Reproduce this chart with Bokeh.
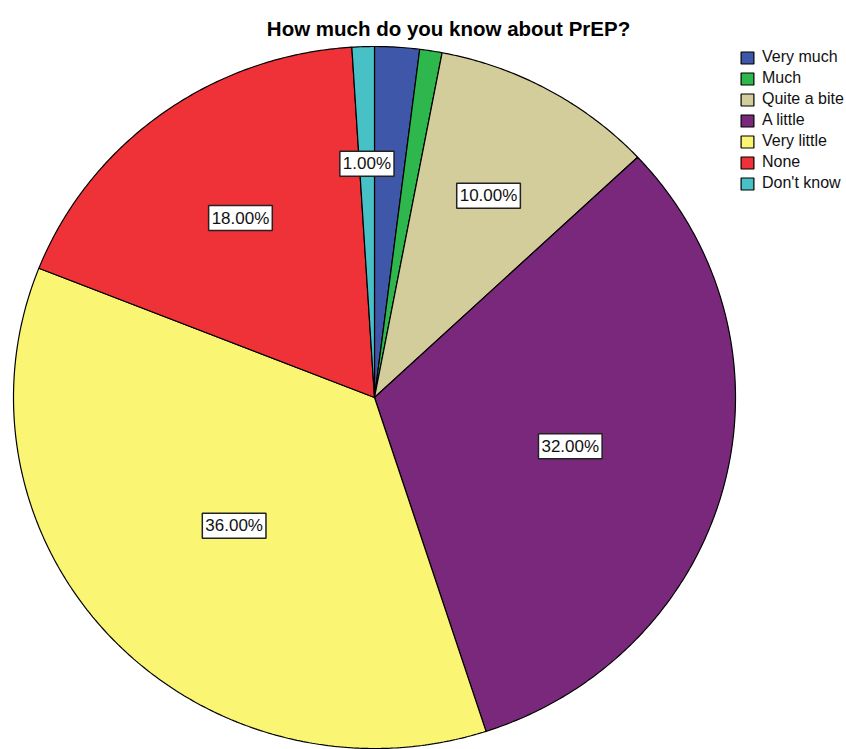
import numpy as np
from bokeh.plotting import figure
from bokeh.models import ColumnDataSource, Range1d, Legend, LegendItem, Label
from bokeh.core.properties import value
from bokeh.embed import file_html
from bokeh.resources import INLINE

# Survey answers: "How much do you know about PrEP?"
categories = ["Very much", "Much", "Quite a bite", "A little", "Very little", "None", "Don't know"]
percents = [2, 1, 10, 32, 36, 18, 1]
colors = ["#3F57A9", "#2DB74C", "#D3CD9C", "#7A287B", "#FBF574", "#EE3237", "#47C0C6"]
# slices whose percentage is printed on the chart
show_label = [False, False, True, True, True, True, True]

W, H = 846, 749
CX, CY = 374, 397          # pie centre (screen-like coordinates, y grows downward)
RX, RY = 361, 351          # horizontal / vertical radius
FONT = "Liberation Sans"

frac = np.array(percents, dtype=float) / sum(percents)
ends = np.cumsum(frac)
starts = ends - frac

# slice outlines, clockwise from 12 o'clock
xs, ys = [], []
for s, e in zip(starts, ends):
    n = max(3, int(np.ceil((e - s) * 720)) + 1)
    t = np.linspace(s, e, n) * 2 * np.pi
    xs.append(np.concatenate([[CX], CX + RX * np.sin(t)]))
    ys.append(np.concatenate([[CY], CY - RY * np.cos(t)]))

src = ColumnDataSource(dict(xs=xs, ys=ys, color=colors, category=categories))

# percentage labels sit on each slice's centroid
lx, ly, lt = [], [], []
for s, e, pct, show in zip(starts, ends, percents, show_label):
    if not show:
        continue
    mid = (s + e) * np.pi
    half = (e - s) * np.pi
    k = (2.0 / 3.0) * np.sin(half) / half
    lx.append(CX + RX * k * np.sin(mid))
    ly.append(CY - RY * k * np.cos(mid))
    lt.append(f"{pct:.2f}%")
lsrc = ColumnDataSource(dict(x=lx, y=ly, text=lt))

p = figure(width=W, height=H, x_range=Range1d(0, W), y_range=Range1d(H, 0),
           output_backend="svg", toolbar_location=None,
           x_axis_type=None, y_axis_type=None, min_border=0,
           outline_line_color=None, background_fill_color="white",
           border_fill_color="white")

r = p.patches("xs", "ys", source=src, fill_color="color",
              line_color="black", line_width=1.2)

p.text(x="x", y="y", text="text", source=lsrc,
       text_align="center", text_baseline="middle",
       text_font=value(FONT), text_font_size="17px", text_color="#111111",
       background_fill_color="white", border_line_color="#222222",
       border_line_width=1.5, padding=3)

title = Label(x=448, y=28, text="How much do you know about PrEP?",
              text_align="center", text_baseline="middle",
              text_font=FONT, text_font_size="20.5px", text_font_style="bold",
              text_color="black")
p.add_layout(title)

items = [LegendItem(label=c, renderers=[r], index=i) for i, c in enumerate(categories)]
legend = Legend(items=items, location=(739, 557), margin=0, padding=0,
                spacing=3, glyph_width=16, glyph_height=15, label_height=18,
                label_standoff=7, label_text_font=FONT, label_text_font_size="16px",
                label_text_color="#111111", background_fill_alpha=0,
                border_line_color=None)
p.add_layout(legend)

open("out.html", "w").write(file_html(p, INLINE))
